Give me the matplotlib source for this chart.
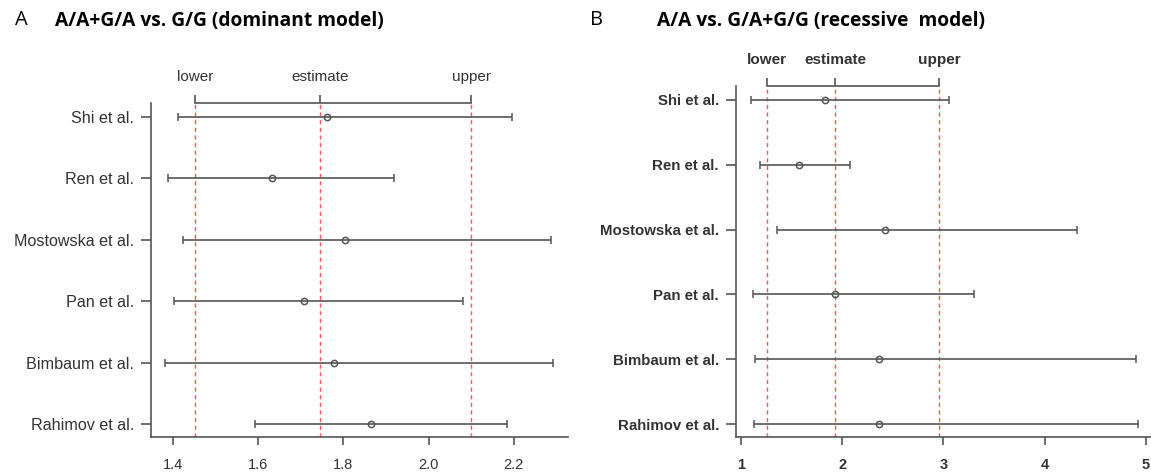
import matplotlib.pyplot as plt
import matplotlib.markers as mmarkers

plt.rcParams['font.family'] = ['Liberation Sans', 'DejaVu Sans']

studies = ['Shi et al.', 'Ren et al.', 'Mostowska et al.', 'Pan et al.',
           'Bimbaum et al.', 'Rahimov et al.']

# dominant model (A)
dom_est = [1.761, 1.632, 1.804, 1.707, 1.779, 1.864]
dom_low = [1.413, 1.390, 1.423, 1.402, 1.382, 1.592]
dom_up = [2.195, 1.918, 2.286, 2.081, 2.292, 2.184]
dom_summary = [1.452, 1.745, 2.100]   # lower, estimate, upper

# recessive model (B)
rec_est = [1.835, 1.57, 2.42, 1.93, 2.36, 2.36]
rec_low = [1.10, 1.19, 1.36, 1.12, 1.14, 1.13]
rec_up = [3.06, 2.08, 4.32, 3.30, 4.90, 4.92]
rec_summary = [1.257, 1.93, 2.96]

summary_names = ['lower', 'estimate', 'upper']
xticks_a = [1.4, 1.6, 1.8, 2.0, 2.2]
xticks_b = [1, 2, 3, 4, 5]

grey = '#555555'
red = '#ff5555'

fig = plt.figure(figsize=(11.51, 4.72), dpi=100)
axA = fig.add_axes([0.1312, 0.0735, 0.3623, 0.7076])
axB = fig.add_axes([0.6392, 0.0735, 0.3608, 0.7443])


def forest(ax, est, low, up, summ, xlim, xticks, ylim, bold, ysize):
    weight = 'bold' if bold else 'normal'
    ypos = list(range(len(studies), 0, -1))
    ax.errorbar(est, ypos, xerr=[[e - l for e, l in zip(est, low)],
                                 [u - e for e, u in zip(est, up)]],
                fmt='o', mfc='none', mec=grey, ms=4.5, mew=1.1,
                ecolor=grey, elinewidth=1.2, capsize=3, capthick=1.2)
    for v in summ:
        ax.axvline(v, color=red, ls=(0, (3, 2.5)), lw=1.0, zorder=0)
    top = ylim[1]
    ax.plot([summ[0], summ[2]], [top, top], color=grey, lw=1.2, clip_on=False)
    ax.plot(summ, [top] * 3, ls='none', marker=mmarkers.TICKUP, ms=6,
            mew=1.2, color=grey, clip_on=False)
    for v, name in zip(summ, summary_names):
        ax.annotate(name, (v, top), xytext=(0, 19), textcoords='offset points',
                    ha='center', va='center', fontsize=11, color='#333333',
                    fontweight=weight)
    ax.set_xlim(*xlim)
    ax.set_ylim(*ylim)
    ax.set_yticks(ypos)
    ax.set_yticklabels(studies, fontsize=ysize, color='#333333',
                       fontweight=weight)
    ax.set_xticks(xticks)
    ax.set_xticklabels([str(t) for t in xticks], fontsize=10.5, color='#333333',
                       fontweight=weight)
    ax.tick_params(axis='x', length=6, width=1.2, color=grey, pad=9)
    ax.tick_params(axis='y', length=7, width=1.2, color=grey, pad=5)
    for s in ['top', 'right']:
        ax.spines[s].set_visible(False)
    for s in ['left', 'bottom']:
        ax.spines[s].set_color(grey)
        ax.spines[s].set_linewidth(1.2)


forest(axA, dom_est, dom_low, dom_up, dom_summary, (1.349, 2.327), xticks_a,
       (0.784, 6.22), False, 11.6)
forest(axB, rec_est, rec_low, rec_up, rec_summary, (0.95, 5.05), xticks_b,
       (0.795, 6.216), True, 10.8)

fig.text(15 / 1151, 1 - 20 / 472, 'A', fontsize=14.5, family='Open Sans',
         va='center', ha='left')
fig.text(55 / 1151, 1 - 21 / 472, 'A/A+G/A vs. G/G (dominant model)',
         fontsize=13.8, family='Open Sans', fontweight='bold', va='center', ha='left')
fig.text(590 / 1151, 1 - 20 / 472, 'B', fontsize=14.5, family='Open Sans',
         va='center', ha='left')
fig.text(657 / 1151, 1 - 21 / 472, 'A/A vs. G/A+G/G (recessive  model)',
         fontsize=13.8, family='Open Sans', fontweight='bold', va='center', ha='left')

fig.savefig('out.png', dpi=100)
